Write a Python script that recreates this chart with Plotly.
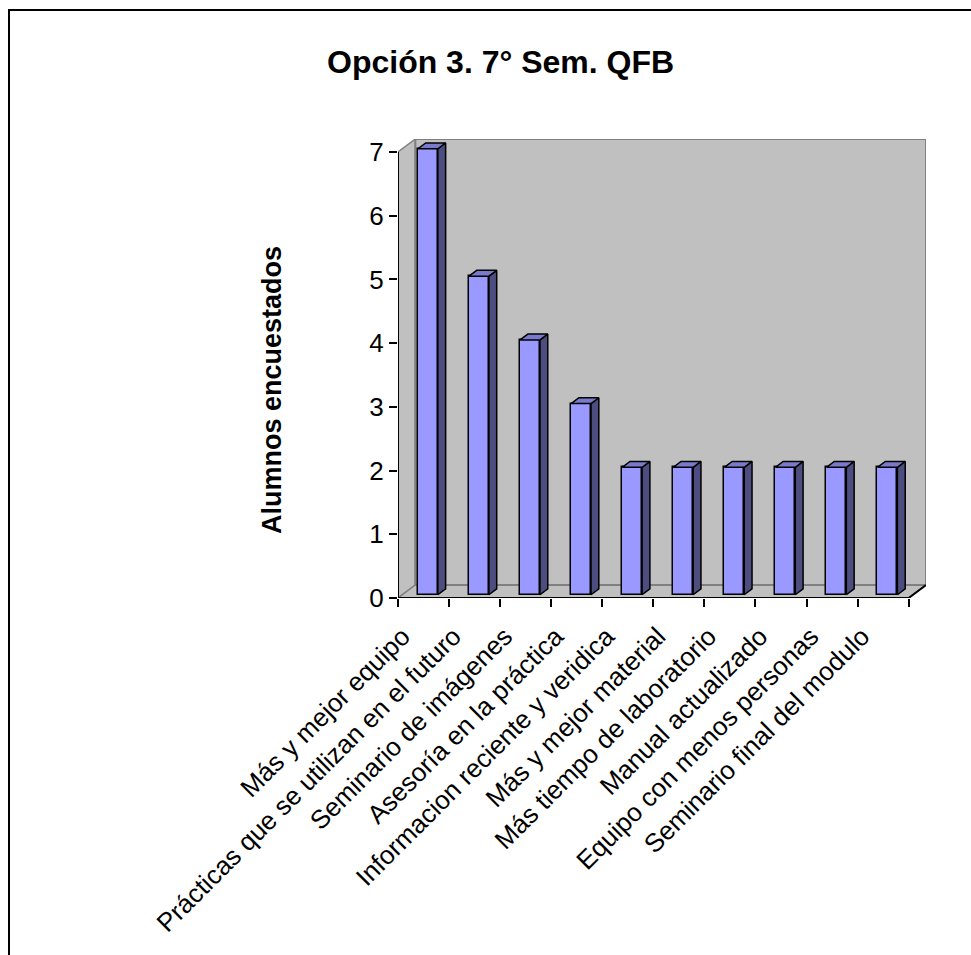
import plotly.graph_objects as go

# Survey answers (category labels) and number of students per answer
categorias = [
    "Más y mejor equipo",
    "Prácticas que se utilizan en el futuro",
    "Seminario de imágenes",
    "Asesoría en la práctica",
    "Informacion reciente y veridica",
    "Más y mejor material",
    "Más tiempo de laboratorio",
    "Manual actualizado",
    "Equipo con menos personas",
    "Seminario final del modulo",
]
alumnos = [7, 5, 4, 3, 2, 2, 2, 2, 2, 2]
y_ticks = [0, 1, 2, 3, 4, 5, 6, 7]

TITLE = "Opción 3. 7° Sem. QFB"
Y_TITLE = "Alumnos encuestados"

FONT = "Liberation Sans, Arial, sans-serif"
FRONT = "#9999FF"
SIDE = "#4D4D80"
TOP = "#7A7ACC"
WALL = "#C0C0C0"
WALL_EDGE = "#808080"

n = len(categorias)
ymax = max(y_ticks)

# pseudo-3D depth of the chart box (in axis units)
DX = 0.34
DY = 0.204
# bar placement inside that depth
FX, OY = 0.25 * DX, 0.25 * DY
BDX, BDY = 0.45 * DX, 0.45 * DY
W = 0.39

xr = [-0.5, n - 0.5 + DX]
yr = [0, ymax + DY]

fig = go.Figure()

# side and top faces of each bar
side_x, side_y, top_x, top_y = [], [], [], []
for i, v in enumerate(alumnos):
    xl = i + FX - W / 2
    xrr = i + FX + W / 2
    y0, y1 = OY, OY + v
    side_x += [xrr, xrr + BDX, xrr + BDX, xrr, xrr, None]
    side_y += [y0, y0 + BDY, y1 + BDY, y1, y0, None]
    top_x += [xl, xrr, xrr + BDX, xl + BDX, xl, None]
    top_y += [y1, y1, y1 + BDY, y1 + BDY, y1, None]

fig.add_trace(go.Scatter(
    x=side_x, y=side_y, mode="lines", fill="toself", fillcolor=SIDE,
    line=dict(color="black", width=1.5), hoverinfo="skip", showlegend=False,
))
fig.add_trace(go.Scatter(
    x=top_x, y=top_y, mode="lines", fill="toself", fillcolor=TOP,
    line=dict(color="black", width=1.5), hoverinfo="skip", showlegend=False,
))

# front faces of the bars
fig.add_trace(go.Bar(
    x=[i + FX for i in range(n)], y=alumnos, base=[OY] * n, width=W,
    marker=dict(color=FRONT, line=dict(color="black", width=1.5)),
    hoverinfo="skip", showlegend=False,
))

# invisible trace carrying the boundary tick axis
fig.add_trace(go.Scatter(x=[0], y=[0], xaxis="x2", mode="markers",
                         marker=dict(opacity=0), hoverinfo="skip",
                         showlegend=False))

x0, x1 = -0.5, n - 0.5
shapes = [
    # left wall
    dict(type="path", layer="below", xref="x", yref="y",
         path=f"M {x0},0 L {x0},{ymax} L {x0 + DX},{ymax + DY} L {x0 + DX},{DY} Z",
         fillcolor=WALL, line=dict(color=WALL_EDGE, width=1.5)),
    # floor
    dict(type="path", layer="below", xref="x", yref="y",
         path=f"M {x0},0 L {x1},0 L {x1 + DX},{DY} L {x0 + DX},{DY} Z",
         fillcolor=WALL, line=dict(color=WALL_EDGE, width=1.5)),
    # back wall
    dict(type="rect", layer="below", xref="x", yref="y",
         x0=x0 + DX, x1=x1 + DX, y0=DY, y1=ymax + DY,
         fillcolor=WALL, line=dict(color=WALL_EDGE, width=2)),
    # value axis line
    dict(type="line", layer="below", xref="x", yref="y",
         x0=x0, x1=x0, y0=0, y1=ymax, line=dict(color="black", width=2)),
    # category axis line and right floor edge
    dict(type="path", layer="below", xref="x", yref="y",
         path=f"M {x0},0 L {x1},0 L {x1 + DX},{DY}",
         line=dict(color="black", width=2)),
    # outer chart frame
    dict(type="rect", layer="above", xref="paper", yref="paper",
         x0=(9 - 398) / 528, x1=(990 - 398) / 528,
         y0=(598 - 975) / 459, y1=(598 - 10) / 459,
         line=dict(color="black", width=2)),
]

fig.update_layout(
    width=971, height=955,
    margin=dict(l=398, r=45, t=139, b=357),
    paper_bgcolor="white", plot_bgcolor="white",
    font=dict(family=FONT, size=26, color="black"),
    shapes=shapes,
    bargap=0,
    xaxis=dict(
        range=xr, tickmode="array", tickvals=list(range(n)), ticktext=categorias,
        tickangle=-45, ticks="", showgrid=False, zeroline=False, showline=False,
        ticklabelstandoff=17, ticklabelshift=-21,
        tickfont=dict(family=FONT, size=26, color="black"), fixedrange=True,
    ),
    xaxis2=dict(
        range=xr, overlaying="x", side="bottom", tickmode="array",
        tickvals=[k - 0.5 for k in range(n + 1)], ticks="outside", ticklen=8,
        tickwidth=2, tickcolor="black", showticklabels=False, showgrid=False,
        zeroline=False, showline=False, fixedrange=True,
    ),
    yaxis=dict(
        range=yr, tickmode="array", tickvals=y_ticks, ticks="outside", ticklen=8,
        tickwidth=2, tickcolor="black", showgrid=False, zeroline=False,
        showline=False, tickfont=dict(family=FONT, size=26, color="black"),
        fixedrange=True,
    ),
    annotations=[
        dict(text=f"<b>{TITLE}</b>", xref="paper", yref="paper",
             x=(500 - 398) / 528, y=(598 - 62) / 459, xanchor="center",
             yanchor="middle", showarrow=False,
             font=dict(family=FONT, size=32, color="black")),
        dict(text=f"<b>{Y_TITLE}</b>", xref="paper", yref="paper",
             x=(272 - 398) / 528, y=(598 - 390) / 459, xanchor="center",
             yanchor="middle", textangle=-90, showarrow=False,
             font=dict(family=FONT, size=27, color="black")),
    ],
)

fig.write_html("out.html")
